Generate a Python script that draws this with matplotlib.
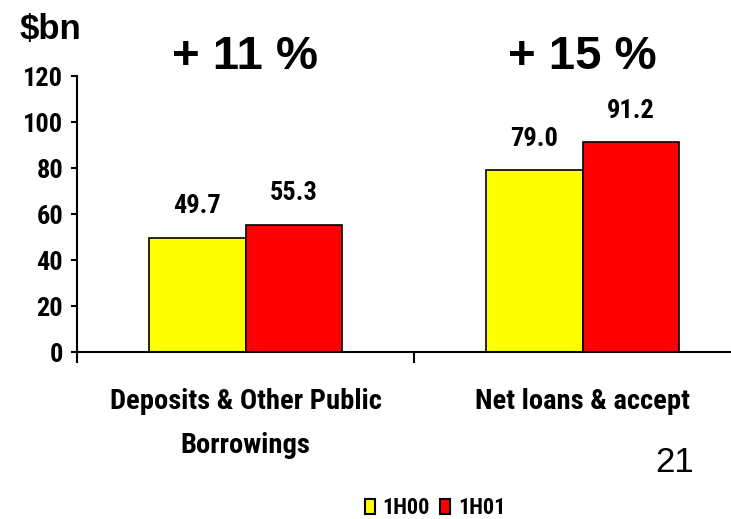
import matplotlib
matplotlib.use("Agg")
import matplotlib.pyplot as plt
from matplotlib.patches import Patch
from matplotlib import font_manager
import numpy as np

categories = ["Deposits & Other Public\nBorrowings", "Net loans & accept"]
series_names = ["1H00", "1H01"]
values_1h00 = [49.7, 79.0]
values_1h01 = [55.3, 91.2]
growth_labels = ["+ 11 %", "+ 15 %"]
yticks = [0, 20, 40, 60, 80, 100, 120]
colors = ["#FFFF00", "#FF0000"]

names = {f.name for f in font_manager.fontManager.ttflist}
narrow_choice = None
for cand in ["Liberation Sans Narrow", "DejaVu Sans Condensed", "Roboto Condensed", "Open Sans Condensed"]:
    if cand in names:
        narrow_choice = cand
        break
NARROW = [narrow_choice, "Liberation Sans"] if narrow_choice else ["Liberation Sans"]
NSIZE = 19 if narrow_choice else 17
CSIZE = 20.5 if narrow_choice else 18
WIDE = ["Liberation Sans", "DejaVu Sans"]

W, H = 731, 519
fig = plt.figure(figsize=(W / 100, H / 100), dpi=100)
ax = fig.add_axes([77 / W, (H - 352) / H, (751 - 77) / W, 276 / H])

x = np.arange(len(categories))
bw = 0.287
b1 = ax.bar(x - bw / 2, values_1h00, bw, color=colors[0], edgecolor="black", linewidth=1.2, label=series_names[0])
b2 = ax.bar(x + bw / 2, values_1h01, bw, color=colors[1], edgecolor="black", linewidth=1.2, label=series_names[1])

for bars, vals in [(b1, values_1h00), (b2, values_1h01)]:
    for rect, v in zip(bars, vals):
        ax.annotate(f"{v:.1f}", (rect.get_x() + rect.get_width() / 2, v),
                    xytext=(0, 14), textcoords="offset points",
                    ha="center", va="bottom", fontsize=NSIZE, fontweight="bold",
                    family=NARROW)

ax.set_xlim(-0.5, 1.5)
ax.set_ylim(0, 120)
ax.set_yticks(yticks)
ax.set_yticklabels([str(t) for t in yticks], fontsize=NSIZE, fontweight="bold", family=NARROW)
ax.set_xticks([-0.5, 0.5, 1.5])
ax.set_xticklabels([])
ax.tick_params(axis="y", direction="out", length=4, width=1.5, pad=6)
ax.tick_params(axis="x", direction="out", length=8, width=1.5)
for s in ["top", "right"]:
    ax.spines[s].set_visible(False)
for s in ["left", "bottom"]:
    ax.spines[s].set_linewidth(1.5)

blend = matplotlib.transforms.blended_transform_factory(ax.transData, fig.transFigure)
for xi, cat in zip(x, categories):
    ax.text(xi, 1 - 388 / H, cat, transform=blend, ha="center", va="top",
            fontsize=CSIZE, fontweight="bold", family=NARROW, linespacing=1.8)

for xi, g in zip(x, growth_labels):
    ax.text(xi, 1 - 57 / H, g, transform=blend,
            ha="center", va="center", fontsize=34, fontweight="bold", family=WIDE)

fig.text(20 / W, 1 - 30 / H, "$bn", ha="left", va="center", fontsize=25, fontweight="bold", family=WIDE)
fig.text(675 / W, 1 - 463 / H, "21", ha="center", va="center", fontsize=25, family=WIDE)

handles = [Patch(facecolor=colors[0], edgecolor="black", linewidth=1.5),
           Patch(facecolor=colors[1], edgecolor="black", linewidth=1.5)]
fig.legend(handles, series_names, loc="center", bbox_to_anchor=(435 / W, 1 - 508 / H),
           ncol=2, frameon=False, handlelength=0.45, handleheight=0.65, handletextpad=0.35,
           columnspacing=0.45, borderpad=0.1,
           prop={"family": NARROW, "weight": "bold", "size": 16})

fig.savefig("out.png", dpi=100)
